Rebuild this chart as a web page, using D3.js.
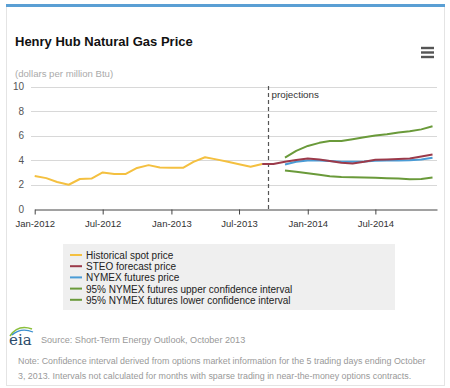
<!DOCTYPE html>
<html>
<head>
<meta charset="utf-8">
<script src="https://cdn.jsdelivr.net/npm/d3@7"></script>
<style>
  body { margin: 0; background: #fff; font-family: "Liberation Sans", Arial, sans-serif; }
</style>
</head>
<body>
<div id="chart"></div>
<script>
// Chart data
var histMonths = ["2012-01","2012-02","2012-03","2012-04","2012-05","2012-06","2012-07","2012-08","2012-09","2012-10","2012-11","2012-12",
  "2013-01","2013-02","2013-03","2013-04","2013-05","2013-06","2013-07","2013-08","2013-09"];
var histValues = [2.70,2.52,2.20,1.98,2.45,2.48,2.98,2.86,2.86,3.35,3.58,3.38,3.36,3.36,3.85,4.22,4.05,3.85,3.65,3.45,3.68];

var steoMonths = ["2013-09","2013-10","2013-11","2013-12","2014-01","2014-02","2014-03","2014-04","2014-05","2014-06","2014-07","2014-08","2014-09","2014-10","2014-11","2014-12"];
var steoValues = [3.68,3.68,3.85,4.00,4.12,4.05,3.92,3.78,3.72,3.86,4.02,4.05,4.08,4.12,4.28,4.45];

var nymexMonths = ["2013-11","2013-12","2014-01","2014-02","2014-03","2014-04","2014-05","2014-06","2014-07","2014-08","2014-09","2014-10","2014-11","2014-12"];
var nymexValues = [3.63,3.85,3.95,3.96,3.92,3.86,3.85,3.88,3.93,3.95,3.96,3.98,4.05,4.18];
var upperValues = [4.20,4.75,5.15,5.40,5.55,5.55,5.70,5.85,6.00,6.10,6.25,6.35,6.50,6.75];
var lowerValues = [3.15,3.05,2.92,2.80,2.68,2.62,2.60,2.57,2.55,2.52,2.48,2.42,2.45,2.57];

var yTicks = [0, 2, 4, 6, 8, 10];
var xTicks = ["2012-01","2012-07","2013-01","2013-07","2014-01","2014-07"];
var projectionDate = "2013-09-17";

var legendNames = ["Historical spot price","STEO forecast price","NYMEX futures price",
  "95% NYMEX futures upper confidence interval","95% NYMEX futures lower confidence interval"];
var legendColors = ["#f4c040","#9b3a4a","#4a9cd6","#6a9a3a","#6a9a3a"];

var parseMonth = d3.timeParse("%Y-%m");
var parseDay = d3.timeParse("%Y-%m-%d");

function zipSeries(months, values) {
  return months.map(function(m, i) { return { date: parseMonth(m), value: values[i] }; });
}

var series = [
  { data: zipSeries(histMonths, histValues), color: legendColors[0] },
  { data: zipSeries(nymexMonths, upperValues), color: legendColors[3] },
  { data: zipSeries(nymexMonths, lowerValues), color: legendColors[4] },
  { data: zipSeries(nymexMonths, nymexValues), color: legendColors[2] },
  { data: zipSeries(steoMonths, steoValues), color: legendColors[1] }
];

var W = 450, H = 388;
var svg = d3.select('#chart')
  .append('svg')
  .attr('width', W)
  .attr('height', H)
  .style('font-family', '"Liberation Sans", Arial, sans-serif');

// card frame
svg.append('rect')
  .attr('x', 6.5).attr('y', 4.5)
  .attr('width', 438).attr('height', 381)
  .attr('fill', '#fff')
  .attr('stroke', '#e4e4e4');
svg.append('rect')
  .attr('x', 6).attr('y', 4)
  .attr('width', 439).attr('height', 3)
  .attr('fill', '#5a9fd4');

// title
svg.append('text')
  .attr('x', 15).attr('y', 46)
  .style('font-size', '13px')
  .style('font-weight', 'bold')
  .attr('fill', '#111')
  .text('Henry Hub Natural Gas Price');

// menu icon
[48, 52.5, 57].forEach(function(yy) {
  svg.append('rect')
    .attr('x', 421).attr('y', yy - 1.2)
    .attr('width', 13).attr('height', 2.4)
    .attr('fill', '#555');
});

svg.append('text')
  .attr('x', 15).attr('y', 77)
  .style('font-size', '9.6px')
  .attr('fill', '#aaa')
  .text('(dollars per million Btu)');

// scales
var x = d3.scaleTime()
  .domain([parseMonth("2012-01"), parseDay("2014-12-13")])
  .range([34.7, 437]);

var y = d3.scaleLinear()
  .domain([0, 10])
  .range([209, 86.5]);

// gridlines
svg.append('g')
  .selectAll('line')
  .data(yTicks.filter(function(d) { return d > 0; }))
  .join('line')
  .attr('x1', 31).attr('x2', 437)
  .attr('y1', function(d) { return Math.round(y(d)) + 0.5; })
  .attr('y2', function(d) { return Math.round(y(d)) + 0.5; })
  .attr('stroke', '#d8d8d8');

// y labels
svg.append('g')
  .selectAll('text')
  .data(yTicks)
  .join('text')
  .attr('x', 24)
  .attr('y', function(d) { return y(d) + 3.5; })
  .attr('text-anchor', 'end')
  .style('font-size', '10px')
  .attr('fill', '#555')
  .text(function(d) { return d; });

// x axis
var xAxis = svg.append('g')
  .attr('transform', 'translate(0,' + (Math.round(y(0)) + 0.5) + ')')
  .call(d3.axisBottom(x)
    .tickValues(xTicks.map(parseMonth))
    .tickFormat(d3.timeFormat("%b-%Y"))
    .tickSize(5)
    .tickSizeOuter(0));
xAxis.select('.domain').attr('stroke', '#444');
xAxis.selectAll('.tick line').attr('stroke', '#444');
xAxis.selectAll('.tick text')
  .attr('fill', '#333')
  .attr('dy', '0.95em')
  .style('font-size', '9.5px')
  .style('font-family', '"Liberation Sans", Arial, sans-serif');

// projection line
var px = Math.round(x(parseDay(projectionDate))) + 0.5;
svg.append('line')
  .attr('x1', px).attr('x2', px)
  .attr('y1', 86).attr('y2', 209)
  .attr('stroke', '#555')
  .attr('stroke-width', 1.2)
  .attr('stroke-dasharray', '4,3');
svg.append('text')
  .attr('x', px + 3).attr('y', 98)
  .style('font-size', '9.8px')
  .attr('fill', '#333')
  .text('projections');

// lines
var line = d3.line()
  .x(function(d) { return x(d.date); })
  .y(function(d) { return y(d.value); });

series.forEach(function(s) {
  svg.append('path')
    .datum(s.data)
    .attr('fill', 'none')
    .attr('stroke', s.color)
    .attr('stroke-width', 2)
    .attr('stroke-linejoin', 'round')
    .attr('d', line);
});

// legend
var legend = svg.append('g');
legend.append('rect')
  .attr('x', 63).attr('y', 244)
  .attr('width', 332).attr('height', 66)
  .attr('fill', '#efefef');
legendNames.forEach(function(name, i) {
  var ly = 255 + i * 11.2;
  legend.append('line')
    .attr('x1', 70).attr('x2', 82)
    .attr('y1', ly).attr('y2', ly)
    .attr('stroke', legendColors[i])
    .attr('stroke-width', 2);
  legend.append('text')
    .attr('x', 86).attr('y', ly + 4)
    .style('font-size', '10px')
    .attr('fill', '#222')
    .text(name);
});

// eia logo
var logo = svg.append('g');
logo.append('path')
  .attr('d', 'M10,336 Q18,324 32,329')
  .attr('fill', 'none').attr('stroke', '#8bbf3c').attr('stroke-width', 1.6);
logo.append('path')
  .attr('d', 'M12,335 Q21,327 33,332')
  .attr('fill', 'none').attr('stroke', '#3a8fcf').attr('stroke-width', 1.3);
logo.append('text')
  .attr('x', 9).attr('y', 345)
  .style('font-family', '"DejaVu Serif", "Liberation Serif", serif')
  .style('font-size', '15px')
  .attr('fill', '#2a4a6a')
  .text('eia');

svg.append('text')
  .attr('x', 41).attr('y', 343)
  .style('font-size', '9.1px')
  .attr('fill', '#999')
  .text('Source: Short-Term Energy Outlook, October 2013');

svg.append('text')
  .attr('x', 18).attr('y', 364)
  .style('font-size', '8.9px')
  .attr('fill', '#999')
  .text('Note: Confidence interval derived from options market information for the 5 trading days ending October');
svg.append('text')
  .attr('x', 18).attr('y', 379)
  .style('font-size', '8.9px')
  .attr('fill', '#999')
  .text('3, 2013. Intervals not calculated for months with sparse trading in near-the-money options contracts.');
</script>
</body>
</html>
